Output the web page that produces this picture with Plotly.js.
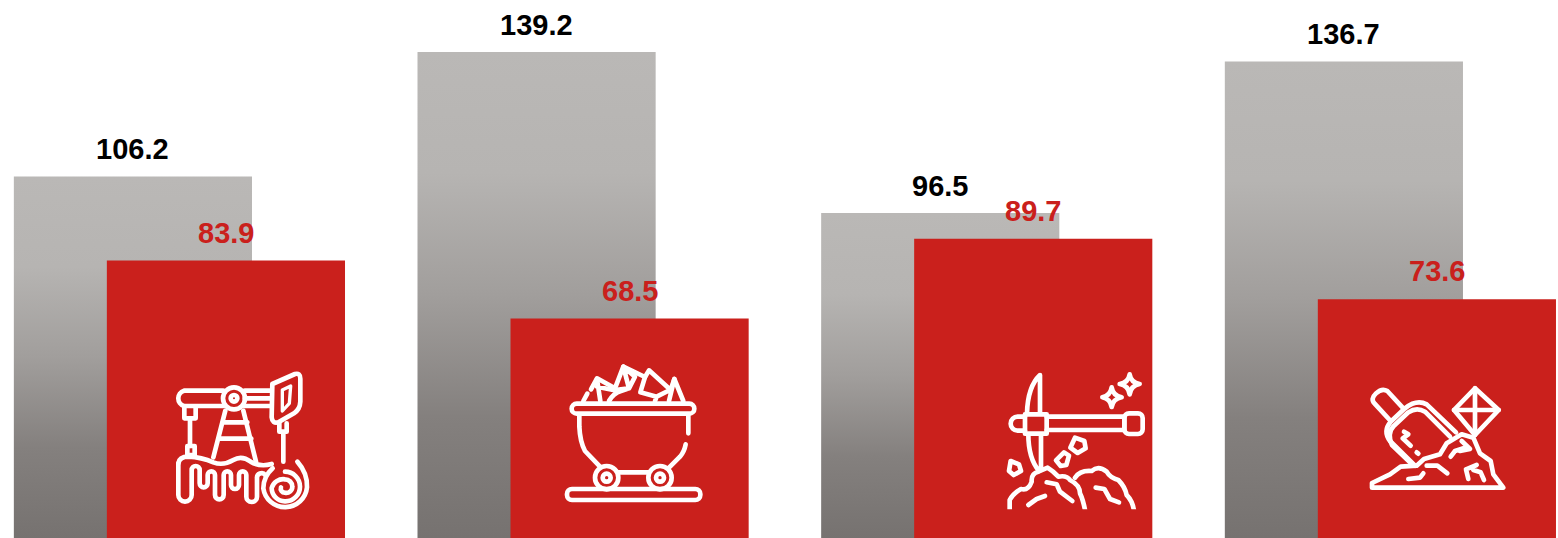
<!DOCTYPE html>
<html>
<head>
<meta charset="utf-8">
<script src="https://cdn.plot.ly/plotly-3.0.1.min.js"></script>
<style>html,body{margin:0;padding:0;background:#fff;overflow:hidden}#chart{width:1558px;height:538px}</style>
</head>
<body>
<div id="chart"></div>
<script>
var groups = [0, 1, 2, 3];
var greyValues = [106.2, 139.2, 96.5, 136.7];
var redValues = [83.9, 68.5, 89.7, 73.6];

var RED = '#ca201c';
var W = 0.59, GREY_OFF = -0.41, RED_OFF = -0.1796;

function svg(w, h, body) {
  var s = '<svg xmlns="http://www.w3.org/2000/svg" width="' + w * 3 + '" height="' + h * 3 + '" viewBox="0 0 ' + w * 3 + ' ' + h * 3 + '">' +
    '<g fill="none" stroke="#fff" stroke-width="14" stroke-linecap="round" stroke-linejoin="round">' + body + '</g></svg>';
  return 'data:image/svg+xml;base64,' + btoa(s);
}

var iconPump = svg(165, 150,
  '<path d="M190,92 H72 A24,24 0 0 0 72,138 H190"/>' +
  '<path d="M254,92 H335 M254,115 H335 M254,138 H335"/>' +
  '<circle cx="222" cy="115" r="33"/><circle cx="222" cy="115" r="10"/>' +
  '<path d="M337,72 L405,42 Q421,38 421,56 V125 Q420,148 402,160 L355,187 Q337,192 335,172 Z"/>' +
  '<path d="M367,90 L392,78 L388,130 L367,153 Z" stroke-width="10"/>' +
  '<path d="M73,143 V175 H107 V143"/>' +
  '<path d="M90,175 V258"/><path d="M82,258 H104 V285 H82 Z"/>' +
  '<path d="M196,152 L160,292 M250,152 L288,305 M188,187 H262 M176,236 H274"/>' +
  '<path d="M358,190 V215 H380 V190 M370,215 V305"/>' +
  '<path d="M55,310 Q58,290 85,290 Q125,292 160,307 Q190,318 220,300 Q245,285 272,305 Q300,322 335,312"/>' +
  '<path d="M55,310 V405 A20,20 0 0 0 95,405 V330 A12,12 0 0 1 119,330 V370 A12,12 0 0 0 143,370 V345 A11,11 0 0 1 165,345 V405 A13,13 0 0 0 191,405 V345 A11,11 0 0 1 213,345 V375 A12,12 0 0 0 237,375 V345 A11,11 0 0 1 259,345 V410 A16,16 0 0 0 291,410 V355 A14,14 0 0 1 316,345"/>' +
  '<path d="M412,305 Q443,340 441,382 A66,66 0 0 1 310,385 Q310,350 338,325"/>' +
  '<path d="M375,335 A45,45 0 0 1 420,380 A44,44 0 0 1 375,424 A40,40 0 0 1 335,384 A36,36 0 0 1 375,358 A22,22 0 0 1 397,380 A18,18 0 0 1 375,398 A12,12 0 0 1 363,382"/>');

var iconCart = svg(160, 155,
  '<rect x="50" y="146" width="368" height="30" rx="15"/>' +
  '<path d="M73,180 V215 Q75,260 90,288 L135,335"/>' +
  '<path d="M400,180 V235 M392,268 Q388,290 375,305 L342,338"/>' +
  '<path d="M190,352 H282"/>' +
  '<circle cx="155" cy="368" r="35"/><circle cx="155" cy="368" r="12"/>' +
  '<circle cx="315" cy="368" r="35"/><circle cx="315" cy="368" r="12"/>' +
  '<rect x="36" y="402" width="400" height="33" rx="15"/>' +
  '<path d="M85,138 L97,116"/>' +
  '<path d="M108,103 L126,70 L180,100 L205,35 L270,66 L282,46 L347,105 L358,72 L385,138"/>' +
  '<path d="M126,72 L136,138 M126,95 L175,105 M205,35 L222,100 L180,105 M205,35 L240,65 L222,100 L198,108 Q175,115 162,138 M270,66 L256,112 L305,125 L345,105 M305,125 L300,138 M358,72 L342,138"/>');

var iconPick = svg(160, 150,
  '<rect x="90" y="148" width="65" height="58"/>' +
  '<path d="M155,155 H388 V195 H155"/>' +
  '<rect x="388" y="145" width="55" height="62" rx="14"/>' +
  '<path d="M90,155 H68 A21,21 0 0 0 68,197 H90"/>' +
  '<path d="M135,145 V30 Q98,65 96,145"/>' +
  '<path d="M100,208 Q100,280 132,318 M138,208 V315"/>' +
  '<path d="M350,67 Q354,92 380,97 Q354,102 350,126 Q346,102 322,97 Q346,92 350,67 Z"/>' +
  '<path d="M404,28 Q408,53 434,57 Q408,61 404,88 Q400,61 374,57 Q400,53 404,28 Z"/>' +
  '<path d="M240,218 L268,228 L272,250 L248,264 L226,248 Z"/>' +
  '<path d="M207,262 L222,272 L214,300 L197,303 L183,286 Z"/>' +
  '<path d="M47,288 L72,298 L78,318 L56,330 L42,318 Z"/>' +
  '<svg x="0" y="0" width="480" height="433">' +
  '<path d="M44,445 V405 Q55,385 78,372 Q100,378 110,350 Q108,325 130,320 L158,308 Q175,318 190,335 Q215,330 225,345 Q255,360 255,385 Q265,405 272,445"/>' +
  '<path d="M240,338 Q255,315 290,318 Q310,300 335,320 Q345,338 370,345 Q390,365 395,390 Q415,410 418,445"/>' +
  '</svg>' +
  '<path d="M100,420 L125,402 L150,393 M155,352 L185,358 L195,380 L232,408 M302,368 L328,372 L345,402 L372,412"/>');

var iconShovel = svg(155, 125,
  '<path d="M130,100 L82,48 Q66,38 48,55 Q30,72 44,86 L92,138"/>' +
  '<path d="M165,272 L90,198 Q68,168 92,140 L135,100 Q170,72 200,88 L288,172"/>' +
  '<path d="M150,262 L96,210 Q80,175 102,152 L145,112 Q170,95 195,110 L270,185"/>' +
  '<path d="M132,170 L145,178 L128,190 L152,212 M170,232 L175,236"/>' +
  '<path d="M36,338 V324 L90,298 L122,275 L170,272 L192,252 L240,238 L260,205 L305,178 L340,188 L360,235 L392,258 L400,298 L430,338 Z"/>' +
  '<path d="M345,40 L416,105 L345,180 L282,105 Z"/>' +
  '<path d="M345,40 V180 M282,105 H416"/>' +
  '<path d="M272,245 L285,228 L315,218 M305,198 L330,222 L300,228 M145,312 L180,308 L190,295 M200,272 H232 L262,295 M318,283 L350,270 M318,283 L325,312 M340,285 L362,292 L372,315"/>');

var icons = [
  {src: iconPump, x: 160, y: 360, w: 165, h: 150},
  {src: iconCart, x: 555, y: 355, w: 160, h: 155},
  {src: iconPick, x: 995, y: 365, w: 160, h: 150},
  {src: iconShovel, x: 1360, y: 375, w: 155, h: 125}
];

var traces = [
  {type: 'bar', x: groups, y: greyValues, width: W, offset: GREY_OFF, marker: {color: '#a3a09e', line: {width: 0}}, hoverinfo: 'none'},
  {type: 'bar', x: groups, y: redValues, width: W, offset: RED_OFF, marker: {color: RED, line: {width: 0}}, hoverinfo: 'none'}
];

var family = '"Liberation Sans", Arial, sans-serif';
function label(x, v, color, shift) {
  return {x: x, y: v, xref: 'x', yref: 'y', text: v.toFixed(1), showarrow: false, yshift: shift,
    xanchor: 'center', yanchor: 'middle', font: {family: family, size: 29, color: color, weight: 700}};
}
var annotations = [];
groups.forEach(function (g, i) {
  annotations.push(label(g + GREY_OFF + W / 2, greyValues[i], '#000', 27));
  annotations.push(label(g + RED_OFF + W / 2, redValues[i], RED, 28));
});

var layout = {
  width: 1558, height: 538, margin: {l: 0, r: 0, t: 0, b: 0},
  paper_bgcolor: '#fff', plot_bgcolor: '#fff', showlegend: false, barmode: 'overlay',
  xaxis: {range: [-0.4443, 3.4154], visible: false, fixedrange: true},
  yaxis: {range: [10.3, 153], visible: false, fixedrange: true},
  annotations: annotations,
  images: icons.map(function (c) {
    return {source: c.src, xref: 'paper', yref: 'paper', x: c.x / 1558, y: 1 - c.y / 538,
      sizex: c.w / 1558, sizey: c.h / 538, xanchor: 'left', yanchor: 'top', sizing: 'stretch', layer: 'above'};
  })
};

Plotly.newPlot('chart', traces, layout, {displayModeBar: false, staticPlot: true}).then(function (gd) {
  var root = gd.querySelector('svg.main-svg');
  var NS = 'http://www.w3.org/2000/svg';
  var defs = root.querySelector('defs');
  var stops = [[0, '#bab8b6'], [0.25, '#b6b4b2'], [0.5, '#a19e9c'], [0.75, '#84807e'], [1, '#767270']];
  var paths = gd.querySelectorAll('.barlayer .trace:first-child .point path');
  var bottom = gd._fullLayout.yaxis.r2p(10.3) + gd._fullLayout._size.t;
  paths.forEach(function (p, i) {
    var top = gd._fullLayout.yaxis.r2p(greyValues[i]) + gd._fullLayout._size.t;
    var g = document.createElementNS(NS, 'linearGradient');
    g.setAttribute('id', 'greyFade' + i);
    g.setAttribute('gradientUnits', 'userSpaceOnUse');
    g.setAttribute('x1', 0); g.setAttribute('x2', 0);
    g.setAttribute('y1', top); g.setAttribute('y2', bottom);
    stops.forEach(function (s) {
      var e = document.createElementNS(NS, 'stop');
      e.setAttribute('offset', s[0]); e.setAttribute('stop-color', s[1]);
      g.appendChild(e);
    });
    defs.appendChild(g);
    p.style.fill = 'url(#greyFade' + i + ')';
  });
});
</script>
</body>
</html>
